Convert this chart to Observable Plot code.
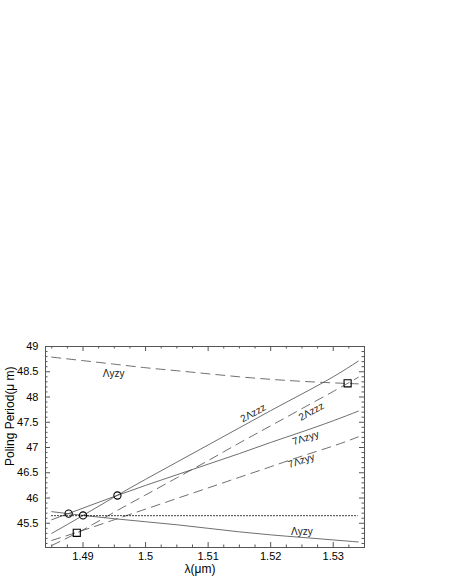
<!DOCTYPE html>
<html><head><meta charset="utf-8">
<script src="https://cdn.jsdelivr.net/npm/d3@7"></script>
<script src="https://cdn.jsdelivr.net/npm/@observablehq/plot@0.6"></script>
<style>body{margin:0;background:#fff;}</style>
</head><body><div id="chart"></div>
<script>
// wavelength grid (μm)
const lambda = [1.485, 1.490, 1.495, 1.500, 1.505, 1.510, 1.515, 1.520, 1.525, 1.530, 1.534];
// solid curves
const yzySolid  = [45.73, 45.655, 45.59, 45.53, 45.47, 45.40, 45.33, 45.27, 45.22, 45.17, 45.13];
const zyySolid  = [45.57, 45.80, 46.03, 46.25, 46.46, 46.67, 46.88, 47.10, 47.31, 47.53, 47.72];
const zzzSolid  = [45.30, 45.655, 46.02, 46.37, 46.71, 47.05, 47.39, 47.73, 48.06, 48.40, 48.71];
// dashed curves
const yzyDashed = [48.79, 48.72, 48.65, 48.58, 48.52, 48.46, 48.40, 48.35, 48.31, 48.28, 48.26];
const zyyDashed = [45.16, 45.36, 45.57, 45.78, 45.99, 46.20, 46.41, 46.62, 46.83, 47.03, 47.21];
const zzzDashed = [45.06, 45.37, 45.72, 46.06, 46.40, 46.74, 47.09, 47.43, 47.77, 48.11, 48.39];
// reference level (dotted)
const refLevel = 45.65;
// intersection markers
const circleX = [1.4877, 1.4900, 1.4955];
const circleY = [45.69, 45.655, 46.05];
const squareX = [1.4890, 1.5323];
const squareY = [45.31, 48.27];
// curve labels
const labelText = ["Λyzy", "2Λzzz", "2Λzzz", "7Λzyy", "7Λzyy", "Λyzy"];
const labelX = [1.4949, 1.5172, 1.5265, 1.5256, 1.5249, 1.5250];
const labelY = [48.46, 47.68, 47.71, 47.19, 46.74, 45.33];
const labelAngle = [0, -29, -29, -19, -18, 0];
// ticks
const xMajor = [1.49, 1.5, 1.51, 1.52, 1.53];
const yMajor = [45.5, 46, 46.5, 47, 47.5, 48, 48.5, 49];

const xMinor = d3.range(0, 21).map(i => +(1.485 + i * 0.0025).toFixed(4)).filter(v => !xMajor.some(m => Math.abs(m - v) < 1e-6));
const yMinor = d3.range(0, 40).map(i => +(45.1 + i * 0.1).toFixed(2)).filter(v => v < 49 && !yMajor.some(m => Math.abs(m - v) < 1e-6));

const mk = arr => lambda.map((x, i) => ({x, y: arr[i]}));
const circles = circleX.map((x, i) => ({x, y: circleY[i]}));
const squares = squareX.map((x, i) => ({x, y: squareY[i]}));
const labels = labelText.map((t, i) => ({t, x: labelX[i], y: labelY[i], r: labelAngle[i]}));

const W = 450, H = 582, mL = 45, mR = 86, mT = 346, mB = 35;
const fw = W - mL - mR, fh = H - mT - mB;
const lineColor = "#4a4a4a";
const frameColor = "#555";

const chart = Plot.plot({
  width: W, height: H,
  marginLeft: mL, marginRight: mR, marginTop: mT, marginBottom: mB,
  style: {fontFamily: "'Liberation Sans', Arial, sans-serif", fontSize: "11px", color: "#000", background: "#fff"},
  x: {domain: [1.484, 1.535]},
  y: {domain: [45.02, 49.0]},
  marks: [
    // lines
    Plot.line(mk(yzySolid), {x: "x", y: "y", curve: "natural", stroke: lineColor, strokeWidth: 0.8}),
    Plot.line(mk(zyySolid), {x: "x", y: "y", curve: "natural", stroke: lineColor, strokeWidth: 0.8}),
    Plot.line(mk(zzzSolid), {x: "x", y: "y", curve: "natural", stroke: lineColor, strokeWidth: 0.8}),
    Plot.line(mk(yzyDashed), {x: "x", y: "y", curve: "natural", stroke: lineColor, strokeWidth: 0.8, strokeDasharray: "9,6"}),
    Plot.line(mk(zyyDashed), {x: "x", y: "y", curve: "natural", stroke: lineColor, strokeWidth: 0.8, strokeDasharray: "9,6"}),
    Plot.line(mk(zzzDashed), {x: "x", y: "y", curve: "natural", stroke: lineColor, strokeWidth: 0.8, strokeDasharray: "9,6"}),
    Plot.ruleY([refLevel], {x1: lambda[0], x2: lambda[lambda.length - 1], stroke: "#000", strokeWidth: 1, strokeDasharray: "1.5,1.5"}),
    // markers
    Plot.dot(circles, {x: "x", y: "y", r: 3.6, stroke: "#000", strokeWidth: 1.1, fill: "none"}),
    Plot.dot(squares, {x: "x", y: "y", r: 4, symbol: "square", stroke: "#000", strokeWidth: 1.1, fill: "none"}),
    // labels
    Plot.text(labels, {x: "x", y: "y", text: "t", rotate: "r", fontSize: 10, fill: "#222"}),
    // frame and inward ticks
    Plot.frame({stroke: frameColor, strokeWidth: 1}),
    Plot.tickX(xMajor, {x: d => d, insetTop: fh - 5, stroke: frameColor}),
    Plot.tickX(xMajor, {x: d => d, insetBottom: fh - 5, stroke: frameColor}),
    Plot.tickX(xMinor, {x: d => d, insetTop: fh - 2.5, stroke: frameColor}),
    Plot.tickX(xMinor, {x: d => d, insetBottom: fh - 2.5, stroke: frameColor}),
    Plot.tickY(yMajor, {y: d => d, insetRight: fw - 5, stroke: frameColor}),
    Plot.tickY(yMajor, {y: d => d, insetLeft: fw - 5, stroke: frameColor}),
    Plot.tickY(yMinor, {y: d => d, insetRight: fw - 2.5, stroke: frameColor}),
    Plot.tickY(yMinor, {y: d => d, insetLeft: fw - 2.5, stroke: frameColor}),
    // axes labels
    Plot.axisX(xMajor, {tickSize: 0, tickPadding: 5, tickFormat: d => String(d), label: null, fontSize: 11}),
    Plot.axisY(yMajor, {tickSize: 0, tickPadding: 7, tickFormat: d => String(d), label: null, fontSize: 11}),
    Plot.text(["Poling Period(μ m)"], {frameAnchor: "left", rotate: -90, dx: -35, dy: 19, fontSize: 12, fill: "#000"}),
    Plot.text(["λ(μm)"], {frameAnchor: "bottom", dx: -5, dy: 25, fontSize: 12, fill: "#000"})
  ]
});
document.getElementById("chart").appendChild(chart);
</script>
</body></html>
